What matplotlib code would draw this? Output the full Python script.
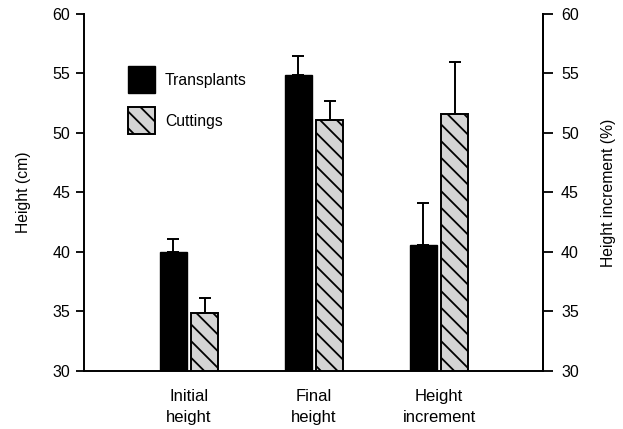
import matplotlib
matplotlib.use("Agg")
import matplotlib.pyplot as plt
from matplotlib.patches import Patch
import numpy as np

plt.rcParams['font.family'] = ['Liberation Sans', 'DejaVu Sans']
plt.rcParams['hatch.linewidth'] = 1.3

categories = ["Initial\nheight", "Final\nheight", "Height\nincrement"]
transplants = [40.0, 54.9, 40.6]
transplants_err = [1.1, 1.6, 3.5]
cuttings = [34.9, 51.1, 51.6]
cuttings_err = [1.2, 1.6, 4.4]

fill_grey = '#d4d4d4'
hatch = '\\\\'

fig = plt.figure(figsize=(6.23, 4.29), dpi=100)
ax = fig.add_axes([0.1348, 0.1352, 0.7368, 0.8322])

x = np.arange(1, len(categories) + 1)
w = 0.216
off = 0.126

ax.bar(x - off, transplants, width=w, color='black', edgecolor='black',
       linewidth=1.0, zorder=2)
ax.bar(x + off, cuttings, width=w, color=fill_grey, edgecolor='black', hatch=hatch,
       linewidth=1.4, zorder=2)

ekw = dict(fmt='none', ecolor='black', elinewidth=1.4, capsize=4, capthick=1.4, zorder=3)
ax.errorbar(x - off, transplants, yerr=[np.zeros(3), transplants_err], **ekw)
ax.errorbar(x + off, cuttings, yerr=[np.zeros(3), cuttings_err], **ekw)

ax.set_xlim(0.16, 3.832)
ax.set_ylim(30, 60)
ax.set_yticks(np.arange(30, 61, 5))
ax.set_xticks(x)
ax.set_xticklabels(categories, fontsize=12, linespacing=1.5)
ax.tick_params(axis='x', length=0, pad=13)
ax.tick_params(axis='y', direction='out', length=6, width=1.3, labelsize=11.5, pad=4)

ax.spines['top'].set_visible(False)
for s in ['left', 'right', 'bottom']:
    ax.spines[s].set_linewidth(1.4)

ax.set_ylabel("Height (cm)", fontsize=11.3, labelpad=15)

ax2 = ax.twinx()
ax2.set_ylim(30, 60)
ax2.set_yticks(np.arange(30, 61, 5))
ax2.tick_params(axis='y', direction='out', length=7, width=1.3, labelsize=11.5, pad=6)
for s in ['top', 'left', 'bottom']:
    ax2.spines[s].set_visible(False)
ax2.spines['right'].set_linewidth(1.4)
ax2.set_ylabel("Height increment (%)", fontsize=11.3, labelpad=16)

handles = [Patch(facecolor='black', edgecolor='black', label='Transplants'),
           Patch(facecolor=fill_grey, edgecolor='black', hatch=hatch, linewidth=1.4,
                 label='Cuttings')]
ax.legend(handles=handles, loc='upper left', bbox_to_anchor=(0.0959, 0.853), frameon=False,
          fontsize=11.3, handlelength=1.72, handleheight=2.27, labelspacing=0.87,
          handletextpad=0.64, borderpad=0, borderaxespad=0)

fig.savefig("out.png", dpi=100)
